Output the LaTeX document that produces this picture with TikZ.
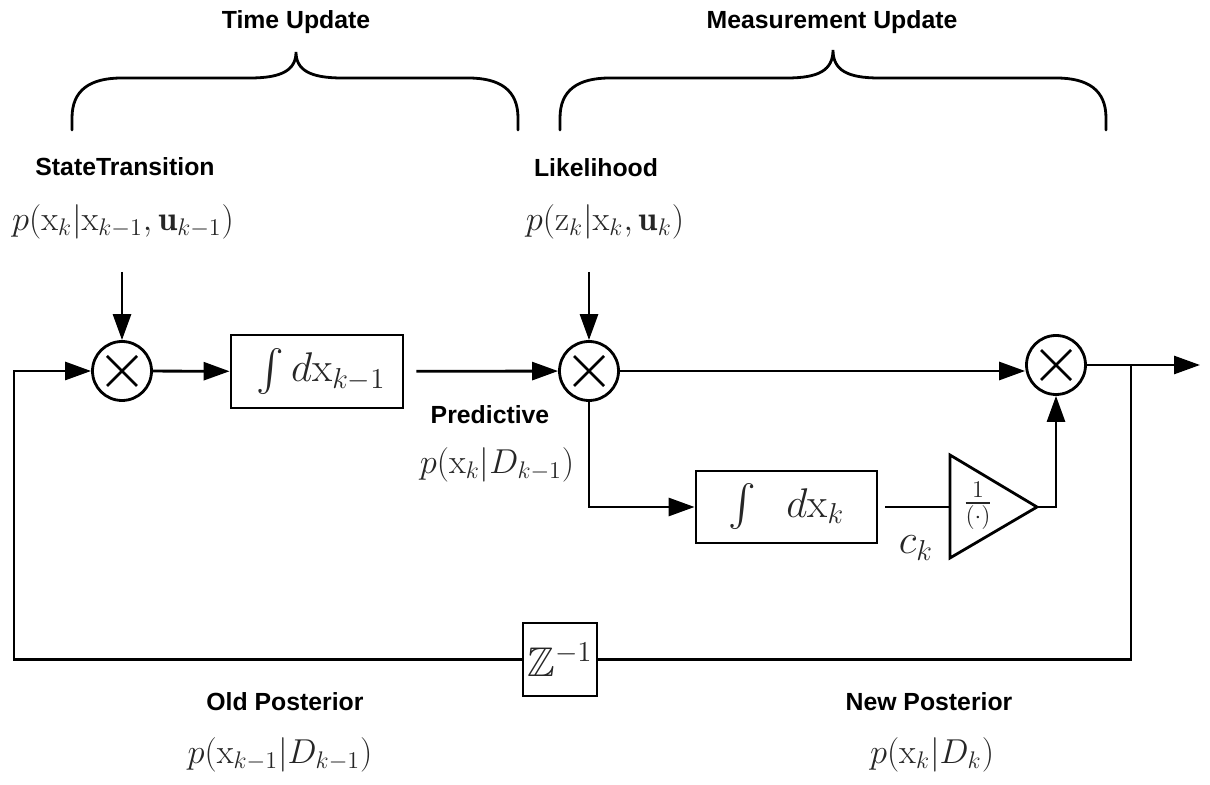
\documentclass[tikz,border=0pt]{standalone}
\usepackage{amsmath,amssymb}
\usepackage{fontspec}
\newfontfamily\lab{Liberation Sans}
\usetikzlibrary{arrows.meta,calc}
\tikzset{
  lw/.style={line width=1.4pt},
  arr/.style={lw, -{Triangle[length=13pt,width=9pt]}},
  lbl/.style={font=\lab\bfseries\fontsize{12.4}{15}\selectfont, inner sep=0pt},
  mth/.style={font=\fontsize{17.28}{20}\selectfont, text=black!85, inner sep=0pt},
  big/.style={font=\fontsize{20.74}{24}\selectfont, text=black!85},
  mult/.style={circle, draw, lw, minimum size=29.5pt, inner sep=0pt,
    path picture={
      \draw[lw] ([shift={(-7.5pt,-7.5pt)}]path picture bounding box.center) -- ([shift={(7.5pt,7.5pt)}]path picture bounding box.center);
      \draw[lw] ([shift={(-7.5pt,7.5pt)}]path picture bounding box.center) -- ([shift={(7.5pt,-7.5pt)}]path picture bounding box.center);
    }},
  blk/.style={draw, lw, inner sep=0pt, big},
  brace/.style={lw, line cap=round}
}
\begin{document}
\begin{tikzpicture}[x=0.5pt,y=-0.5pt]
\useasboundingbox (0,0) rectangle (1210,785);

% headings and braces
\node[lbl] (tu) at (296,22) {Time Update};
\node[lbl] (mu) at (832,22) {Measurement Update};
\draw[brace] (72,130) -- (72,118) .. controls (72,90) and (90,78) .. (122,78) -- (250,78)
  .. controls (282,78) and (296,70) .. (296,52)
  .. controls (296,70) and (310,78) .. (342,78) -- (468,78)
  .. controls (500,78) and (518,90) .. (518,118) -- (518,130);
\draw[brace] (560,130) -- (560,118) .. controls (560,90) and (578,78) .. (610,78) -- (787,78)
  .. controls (819,78) and (833,70) .. (833,50)
  .. controls (833,70) and (847,78) .. (879,78) -- (1056,78)
  .. controls (1088,78) and (1106,90) .. (1106,118) -- (1106,130);

% labels
\node[lbl] (stl) at (125,167) {StateTransition};
\node[mth] (stm) at (123,222) {$p(\mathrm{x}_k|\mathrm{x}_{k-1},\mathbf{u}_{k-1})$};
\node[lbl] (lkl) at (596,168) {Likelihood};
\node[mth] (lkm) at (605,222) {$p(\mathrm{z}_k|\mathrm{x}_k,\mathbf{u}_k)$};
\node[lbl] (prl) at (490,415) {Predictive};
\node[mth] (prm) at (497,465) {$p(\mathrm{x}_k|D_{k-1})$};
\node[lbl] (opl) at (285,702) {Old Posterior};
\node[mth] (opm) at (280,755) {$p(\mathrm{x}_{k-1}|D_{k-1})$};
\node[lbl] (npl) at (929,702) {New Posterior};
\node[mth] (npm) at (932,755) {$p(\mathrm{x}_k|D_k)$};
\node[big, inner sep=0pt] (ck) at (916,548) {$c_k$};

% blocks
\node[mult] (m1) at (122,371) {};
\node[mult] (m2) at (589,371) {};
\node[mult] (m3) at (1056,365) {};
\node[blk, minimum width=86pt, minimum height=36.5pt] (b1) at (317,371.5) {\hspace{4pt}$\int d\mathrm{x}_{k-1}$};
\node[blk, minimum width=90.5pt, minimum height=36pt] (b2) at (786.5,507) {$\int\;\; d\mathrm{x}_k$};
\node[blk, minimum width=37pt, minimum height=36.5pt] (zb) at (560,659.5) {$\mathbb{Z}^{-1}$};

% triangle
\coordinate (tw) at (950,507);
\coordinate (tip) at (1037,507);
\draw[lw, line join=miter] (950,455) -- (tip) -- (950,558) -- cycle;
\node[mth, inner sep=0pt] (frac) at (978,506) {$\frac{1}{(\cdot)}$};

% connectors
\coordinate (s1) at (122,272);
\coordinate (s2) at (589,272);
\coordinate (out) at (1200,365);
\coordinate (j) at (1131,365);
\coordinate (fb) at (14,659.5);
\draw[arr] (s1) -- (m1.north);
\draw[arr] (s2) -- (m2.north);
\draw[arr] (m1) -- (b1);
\draw[arr, shorten <=6pt] (b1) -- (m2);
\draw[arr] (m2) -- (m2 -| m3.west);
\draw[arr] (m2.south) |- (b2.west);
\draw[lw, shorten <=3.5pt] (b2.east) -- (tw);
\draw[arr] (tip) -| (m3.south);
\draw[arr] (m3) -- (out);
\draw[lw] (j) |- (zb.east);
\draw[arr] (zb.west) -- (fb) |- (m1.west);
\end{tikzpicture}
\end{document}
